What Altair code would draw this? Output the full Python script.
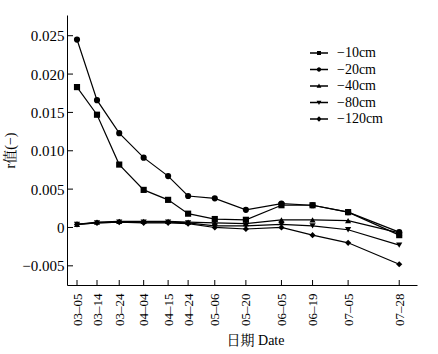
import json
import altair as alt
import pandas as pd

dates = ["03-05", "03-14", "03-24", "04-04", "04-15", "04-24",
         "05-06", "05-20", "06-05", "06-19", "07-05", "07-28"]
depths = ["−10cm", "−20cm", "−40cm", "−80cm", "−120cm"]
r10 = [0.0183, 0.0147, 0.0082, 0.0049, 0.0036, 0.0018, 0.0011, 0.0010, 0.0029, 0.0029, 0.0020, -0.0010]
r20 = [0.0245, 0.0166, 0.0123, 0.0091, 0.0067, 0.0041, 0.0038, 0.0023, 0.0031, 0.0029, 0.0020, -0.0006]
r40 = [0.0004, 0.0007, 0.0008, 0.0008, 0.0008, 0.0007, 0.0006, 0.0005, 0.0010, 0.0010, 0.0009, -0.0007]
r80 = [0.0004, 0.0006, 0.0007, 0.0007, 0.0007, 0.0006, 0.0002, 0.0002, 0.0004, 0.0002, -0.0003, -0.0023]
r120 = [0.0004, 0.0006, 0.0007, 0.0006, 0.0006, 0.0005, 0.0000, -0.0002, 0.0000, -0.0010, -0.0020, -0.0048]
series = [r10, r20, r40, r80, r120]
y_ticks = [-0.005, 0, 0.005, 0.010, 0.015, 0.020, 0.025]

FONT = "Liberation Serif, Noto Serif CJK SC, Noto Sans CJK SC"

doy = [pd.Timestamp(f"2019-{d}").dayofyear for d in dates]
labels = [d.replace("-", "–") for d in dates]

rows = []
for dep, vals in zip(depths, series):
    for d, x, v in zip(dates, doy, vals):
        rows.append({"date": d, "day": x, "depth": dep, "r": v})
df = pd.DataFrame(rows)

label_expr = (json.dumps(labels, ensure_ascii=False) + "[indexof(" +
              json.dumps(doy) + ", datum.value)]")

x_scale = alt.Scale(domain=[59.5, 217], nice=False, zero=False)
y_scale = alt.Scale(domain=[-0.0075, 0.0277], nice=False, zero=False)

x_enc = alt.X("day:Q", scale=x_scale, axis=alt.Axis(
    values=doy, labelExpr=label_expr, labelAngle=-90, ticks=False, grid=False,
    labelPadding=8, labelFontSize=13, title="日期 Date", titlePadding=8, titleX=188))
y_enc = alt.Y("r:Q", scale=y_scale, axis=alt.Axis(
    values=y_ticks, labelExpr="datum.value == 0 ? '0' : format(datum.value, '.3f')",
    ticks=False, grid=False, labelPadding=3, labelFontSize=15,
    title="r值(−)", titlePadding=4))

base = alt.Chart(df)

lines = base.mark_line(color="black", strokeWidth=1.2).encode(
    x=x_enc, y=y_enc, detail="depth:N")

points = base.mark_point(filled=True, color="black", size=38, opacity=1).encode(
    x=x_enc, y=y_enc,
    shape=alt.Shape("depth:N", scale=alt.Scale(
        domain=depths, range=["square", "circle", "triangle-up", "triangle-down", "diamond"]),
        legend=None))

# legend symbols: a short filled bar (the line) plus the marker, all filled
bar = "M-1.5,-0.11L1.5,-0.11L1.5,0.11L-1.5,0.11Z"
leg_paths = [
    bar + "M-0.33,-0.33L0.33,-0.33L0.33,0.33L-0.33,0.33Z",
    bar + "M0.36,0A0.36,0.36,0,1,1,-0.36,0A0.36,0.36,0,1,1,0.36,0Z",
    bar + "M0,-0.42L0.4,0.3L-0.4,0.3Z",
    bar + "M0,0.42L-0.4,-0.3L0.4,-0.3Z",
    bar + "M0,-0.45L0.45,0L0,0.45L-0.45,0Z",
]

legend_layer = base.transform_filter("datum.r > 1").mark_point(
    filled=True, color="black", size=144, opacity=1).encode(
    x=x_enc, y=y_enc,
    shape=alt.Shape("depth:N", scale=alt.Scale(domain=depths, range=leg_paths),
                    legend=alt.Legend(
                        title=None, orient="none", legendX=245, legendY=31,
                        labelOffset=11, rowPadding=2.5, padding=0,
                        symbolFillColor="black", symbolOpacity=1,
                        symbolSize=144, labelFontSize=14)))

ytick_df = pd.DataFrame({"r": y_ticks})
yticks = alt.Chart(ytick_df).mark_rule(color="black", strokeWidth=1).encode(
    y=y_enc, x=alt.value(0), x2=alt.value(6))

xtick_df = pd.DataFrame({"day": doy})
xticks = alt.Chart(xtick_df).mark_rule(color="black", strokeWidth=1).encode(
    x=x_enc, y=alt.value(270), y2=alt.value(265))

chart = alt.layer(lines, points, legend_layer, yticks, xticks).resolve_scale(
    shape="independent"
).resolve_legend(shape="independent").properties(
    width=350, height=270,
    autosize=alt.AutoSizeParams(type="none"),
    padding={"left": 67, "top": 15, "right": 21, "bottom": 69},
    background="white",
).configure_view(stroke=None).configure_axis(
    labelFont=FONT, titleFont=FONT, labelColor="black", titleColor="black",
    domainColor="black", domainWidth=1, titleFontSize=14,
    titleFontWeight="normal",
).configure_legend(labelFont=FONT, labelColor="black")

chart.save("out.html", embed_options={"renderer": "svg", "actions": False})
